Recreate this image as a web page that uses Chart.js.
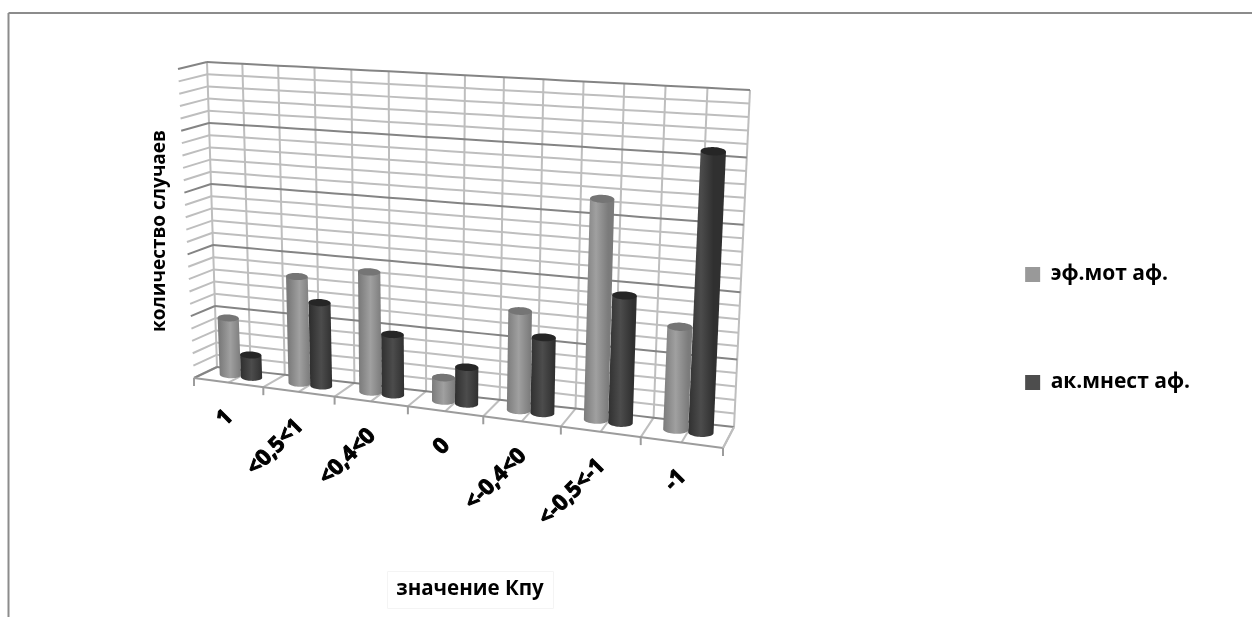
<!DOCTYPE html>
<html>
<head>
<meta charset="utf-8">
<title>Кпу</title>
<script src="https://cdn.jsdelivr.net/npm/chart.js@4"></script>
<style>
    html, body { margin: 0; padding: 0; background: #fff; }
    #wrap { position: relative; width: 1252px; height: 617px; overflow: hidden; }
</style>
</head>
<body>
<div id="wrap"><canvas id="chart" width="1252" height="617"></canvas></div>
<script>
// Data
const categories = ['1', '<0,5<1', '<0,4<0', '0', '<-0,4<0', '<-0,5<-1', '-1'];
const seriesNames = ['эф.мот аф.', 'ак.мнест аф.'];
const motAf = [4.6, 8.5, 9.4, 1.8, 7.5, 16.4, 7.5];
const mnestAf = [1.8, 6.6, 4.7, 2.8, 5.7, 9.4, 20.4];
const axisMax = 25;
const xTitle = 'значение Кпу';
const yTitle = 'количество случаев';

const FONT = '"Open Sans", "Noto Sans", sans-serif';

// Corners of the 3D box on the page
const floorBack = [[217, 367], [734, 427]];
const floorFront = [[194, 378], [723, 448]];
const roofBack = [[207, 62], [750, 90]];
const roofFront = [[178, 69], [741, 88]];
const perspective = 0.905;
const barDepth = 0.44;

const barStyles = [
    { edge: '#7b7b7b', mid: '#a0a0a0', cap: '#757575' },
    { edge: '#303030', mid: '#4c4c4c', cap: '#262626' }
];

function mix(a, b, t) {
    return [a[0] + (b[0] - a[0]) * t, a[1] + (b[1] - a[1]) * t];
}

// u along categories, v up the value axis, d from back wall to front
function project(u, v, d) {
    const w = perspective * u / (1 + (perspective - 1) * u);
    const low = mix(mix(floorBack[0], floorBack[1], w), mix(floorFront[0], floorFront[1], w), d);
    const high = mix(mix(roofBack[0], roofBack[1], w), mix(roofFront[0], roofFront[1], w), d);
    return mix(low, high, v);
}

function line(ctx, a, b, color, width) {
    ctx.strokeStyle = color;
    ctx.lineWidth = width;
    ctx.beginPath();
    ctx.moveTo(a[0], a[1]);
    ctx.lineTo(b[0], b[1]);
    ctx.stroke();
}

function toU(chart, px) {
    return (px - chart.chartArea.left) / chart.chartArea.width;
}

function toV(chart, py) {
    return (chart.chartArea.bottom - py) / chart.chartArea.height;
}

function drawCylinder(ctx, chart, bar, style) {
    const props = bar.getProps(['x', 'y', 'base', 'width'], true);
    const u = toU(chart, props.x);
    const halfU = props.width / 2 / chart.chartArea.width;
    const v = toV(chart, props.y);

    const base = project(u, 0, barDepth);
    const top = project(u, v, barDepth);
    const a = project(u - halfU, 0, barDepth);
    const b = project(u + halfU, 0, barDepth);
    const rx = (b[0] - a[0]) / 2;
    const rs = (b[1] - a[1]) / 2 * 0.3;
    const ry = rx * 0.33;

    const grad = ctx.createLinearGradient(base[0] - rx, 0, base[0] + rx, 0);
    grad.addColorStop(0, style.edge);
    grad.addColorStop(0.5, style.mid);
    grad.addColorStop(1, style.edge);

    ctx.fillStyle = grad;
    ctx.beginPath();
    ctx.moveTo(top[0] + rx, top[1] + rs);
    for (let i = 0; i <= 24; i++) {
        const t = Math.PI * i / 24;
        ctx.lineTo(base[0] + rx * Math.cos(t), base[1] + rs * Math.cos(t) + ry * Math.sin(t));
    }
    ctx.lineTo(top[0] - rx, top[1] - rs);
    ctx.closePath();
    ctx.fill();

    ctx.fillStyle = style.cap;
    ctx.beginPath();
    for (let i = 0; i < 48; i++) {
        const t = Math.PI * i / 24;
        ctx.lineTo(top[0] + rx * Math.cos(t), top[1] + rs * Math.cos(t) + ry * Math.sin(t));
    }
    ctx.closePath();
    ctx.fill();
}

const scene3d = {
    id: 'scene3d',
    beforeDraw(chart) {
        const ctx = chart.ctx;
        const xs = chart.scales.x;
        const ys = chart.scales.y;
        ctx.save();

        // outer frame, open on the right and at the bottom
        line(ctx, [8.5, 617], [8.5, 13], '#8c8c8c', 2);
        line(ctx, [8.5, 13], [1252, 13], '#8c8c8c', 2);

        // floor lines every half category
        for (let i = 0; i <= categories.length * 2; i++) {
            const u = toU(chart, xs.getPixelForValue(i / 2 - 0.5));
            line(ctx, project(u, 0, 0), project(u, 0, 1), '#bebebe', 2);
            line(ctx, project(u, 0, 0), project(u, 1, 0), '#bebebe', 2);
        }

        // value gridlines across the back wall and the side wall
        ys.ticks.forEach(function (tick) {
            const v = toV(chart, ys.getPixelForValue(tick.value));
            const major = tick.value % 5 === 0;
            const color = major ? '#848484' : '#bebebe';
            const a = project(0, v, 1);
            const b = project(0, v, 0);
            line(ctx, a, b, color, 2);
            ctx.strokeStyle = color;
            ctx.beginPath();
            ctx.moveTo(b[0], b[1]);
            for (let i = 1; i <= 28; i++) {
                const p = project(i / 28, v, 0);
                ctx.lineTo(p[0], p[1]);
            }
            ctx.stroke();
        });

        // front edge of the floor with its tick marks
        line(ctx, project(0, 0, 1), project(1, 0, 1), '#9c9c9c', 2);
        line(ctx, project(1, 0, 0), project(1, 0, 1), '#bebebe', 2);
        for (let i = 0; i <= categories.length; i++) {
            const p = project(toU(chart, xs.getPixelForValue(i - 0.5)), 0, 1);
            line(ctx, p, [p[0], p[1] + 8], '#9c9c9c', 2);
        }
        ctx.restore();
    },
    beforeDatasetsDraw(chart) {
        const ctx = chart.ctx;
        ctx.save();
        chart.data.datasets.forEach(function (ds, i) {
            chart.getDatasetMeta(i).data.forEach(function (bar) {
                drawCylinder(ctx, chart, bar, barStyles[i]);
            });
        });
        ctx.restore();
        return false;
    },
    afterDraw(chart) {
        const ctx = chart.ctx;
        const xs = chart.scales.x;
        ctx.save();
        ctx.fillStyle = '#000';
        ctx.strokeStyle = '#000';
        ctx.lineJoin = 'round';

        // category labels hang off the front edge at 45 degrees
        ctx.font = 'bold 22px ' + FONT;
        ctx.lineWidth = 1;
        ctx.textAlign = 'right';
        ctx.textBaseline = 'middle';
        categories.forEach(function (label, i) {
            const p = project(toU(chart, xs.getPixelForValue(i)), 0, 1);
            ctx.save();
            ctx.translate(p[0] + 1, p[1] + 31);
            ctx.rotate(-Math.PI / 4);
            ctx.fillText(label, 0, 0);
            ctx.strokeText(label, 0, 0);
            ctx.restore();
        });

        // axis titles
        ctx.textAlign = 'center';
        ctx.font = 'bold 19px ' + FONT;
        ctx.save();
        ctx.translate(160, 231);
        ctx.rotate(-Math.PI / 2);
        ctx.fillText(yTitle, 0, 0);
        ctx.restore();

        ctx.font = 'bold 20.5px ' + FONT;
        ctx.strokeStyle = '#f4f4f4';
        ctx.lineWidth = 1;
        ctx.strokeRect(387.5, 571.5, 166, 37);
        ctx.fillText(xTitle, 470, 589);
        ctx.restore();
    }
};

new Chart(document.getElementById('chart'), {
    type: 'bar',
    data: {
        labels: categories,
        datasets: [
            { label: seriesNames[0], data: motAf, backgroundColor: '#999999', borderWidth: 0 },
            { label: seriesNames[1], data: mnestAf, backgroundColor: '#4d4d4d', borderWidth: 0 }
        ]
    },
    plugins: [scene3d],
    options: {
        responsive: false,
        animation: false,
        categoryPercentage: 0.62,
        barPercentage: 1,
        layout: { padding: { top: 40, right: 52 } },
        scales: {
            x: { display: false },
            y: { display: false, min: 0, max: axisMax, ticks: { stepSize: 1 } }
        },
        plugins: {
            tooltip: { enabled: false },
            legend: {
                position: 'right',
                labels: {
                    boxWidth: 15,
                    boxHeight: 15,
                    padding: 87,
                    color: '#000',
                    font: { family: FONT, size: 21, weight: 'bold' }
                }
            }
        }
    }
});
</script>
</body>
</html>
